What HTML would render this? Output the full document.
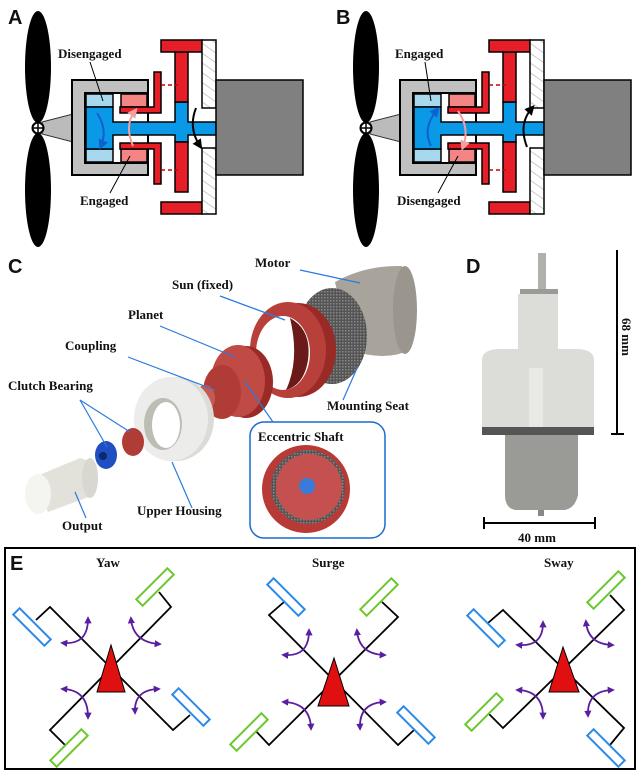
<!DOCTYPE html>
<html><head><meta charset="utf-8"><style>
html,body{margin:0;padding:0;background:#fff}
svg{display:block}
.lb{font-family:"Liberation Serif",serif;font-weight:bold;font-size:13px;fill:#111}
.pl{font-family:"Liberation Sans",sans-serif;font-weight:bold;font-size:20px;fill:#111}
</style></head><body>
<svg width="640" height="773" viewBox="0 0 640 773" xmlns="http://www.w3.org/2000/svg">
<defs>
<pattern id="hatch" width="8" height="8" patternUnits="userSpaceOnUse" patternTransform="rotate(-55)">
<rect width="8" height="8" fill="#fff"/><line x1="0" y1="0" x2="0" y2="8" stroke="#bbb" stroke-width="1.5"/></pattern>
<pattern id="knurl" width="3" height="3" patternUnits="userSpaceOnUse">
<rect width="3" height="3" fill="#555"/><rect width="1.5" height="1.5" fill="#888"/></pattern>
<marker id="ap" viewBox="0 0 10 10" refX="6" refY="5" markerWidth="4" markerHeight="4" orient="auto-start-reverse"><path d="M0,0L10,5L0,10z" fill="#5a1ea0"/></marker>
<marker id="ak" viewBox="0 0 10 10" refX="6" refY="5" markerWidth="5" markerHeight="5" orient="auto"><path d="M0,0L10,5L0,10z" fill="#000"/></marker>
<marker id="ab" viewBox="0 0 10 10" refX="6" refY="5" markerWidth="5" markerHeight="5" orient="auto"><path d="M0,0L10,5L0,10z" fill="#1060d0"/></marker>
<marker id="apk" viewBox="0 0 10 10" refX="6" refY="5" markerWidth="5" markerHeight="5" orient="auto"><path d="M0,0L10,5L0,10z" fill="#f4a0a0"/></marker>
<g id="mech">
<ellipse cx="38" cy="67" rx="13" ry="56" fill="#000"/>
<ellipse cx="38" cy="190" rx="13" ry="57" fill="#000"/>
<polygon points="42,122 73,114 73,142 42,134" fill="#bbb" stroke="#333" stroke-width="1"/>
<circle cx="38" cy="128" r="5.5" fill="#fff" stroke="#000" stroke-width="2"/>
<line x1="32.5" y1="128" x2="43.5" y2="128" stroke="#000" stroke-width="1.5"/>
<line x1="38" y1="122.5" x2="38" y2="133.5" stroke="#000" stroke-width="1.5"/>
<rect x="72" y="80" width="76" height="95" fill="#c0c0c0" stroke="#000" stroke-width="2"/>
<rect x="85" y="93" width="63" height="70" fill="#fff" stroke="#000" stroke-width="2"/>
<rect x="86" y="94" width="27" height="13" fill="#a8d8ee" stroke="#000" stroke-width="1.5"/>
<rect x="86" y="149" width="27" height="13" fill="#a8d8ee" stroke="#000" stroke-width="1.5"/>
<rect x="121" y="94" width="26" height="13" fill="#f48585" stroke="#000" stroke-width="1.5"/>
<rect x="121" y="149" width="26" height="13" fill="#f48585" stroke="#000" stroke-width="1.5"/>
<path d="M86,107H113V122H175V102H188V122H216V135H188V142H175V135H113V149H86Z" fill="#0a99e6" stroke="#000" stroke-width="1.5"/>
<path d="M120,107H154V72H161V113H120Z" fill="#e61e28" stroke="#000" stroke-width="1.5"/>
<path d="M120,149H154V184H161V143H120Z" fill="#e61e28" stroke="#000" stroke-width="1.5"/>
<rect x="175" y="52" width="13" height="50" fill="#e61e28" stroke="#000" stroke-width="1.5"/>
<rect x="175" y="142" width="13" height="50" fill="#e61e28" stroke="#000" stroke-width="1.5"/>
<rect x="161" y="40" width="41" height="12" fill="#e61e28" stroke="#000" stroke-width="1.5"/>
<rect x="161" y="202" width="41" height="12" fill="#e61e28" stroke="#000" stroke-width="1.5"/>
<rect x="202" y="40" width="14" height="68" fill="url(#hatch)" stroke="#000" stroke-width="1.5"/>
<rect x="202" y="148" width="14" height="66" fill="url(#hatch)" stroke="#000" stroke-width="1.5"/>
<rect x="216" y="80" width="87" height="95" fill="#808080" stroke="#000" stroke-width="1.5"/>
<line x1="161" y1="85" x2="178" y2="85" stroke="#c00" stroke-width="1.5" stroke-dasharray="4,3"/>
<line x1="161" y1="170" x2="178" y2="170" stroke="#c00" stroke-width="1.5" stroke-dasharray="4,3"/>
</g>
</defs>

<!-- Panel A -->
<text x="8" y="24" class="pl">A</text>
<use href="#mech"/>
<path d="M97,113 Q108,130 101,146" fill="none" stroke="#1060d0" stroke-width="2" marker-end="url(#ab)"/>
<path d="M133,146 Q124,125 135,111" fill="none" stroke="#f4a0a0" stroke-width="2" marker-end="url(#apk)"/>
<path d="M196,108 Q188,128 200,146" fill="none" stroke="#000" stroke-width="2" marker-end="url(#ak)"/>
<text x="58" y="58" class="lb">Disengaged</text>
<line x1="90" y1="62" x2="103" y2="101" stroke="#000" stroke-width="1"/>
<text x="80" y="205" class="lb">Engaged</text>
<line x1="110" y1="193" x2="130" y2="156" stroke="#000" stroke-width="1"/>

<!-- Panel B -->
<text x="336" y="24" class="pl">B</text>
<use href="#mech" x="328"/>
<path d="M431,146 Q422,128 437,110" fill="none" stroke="#1060d0" stroke-width="2" marker-end="url(#ab)"/>
<path d="M458,111 Q470,128 463,147" fill="none" stroke="#f4a0a0" stroke-width="2" marker-end="url(#apk)"/>
<path d="M527,147 Q518,124 532,108" fill="none" stroke="#000" stroke-width="2" marker-end="url(#ak)"/>
<text x="395" y="58" class="lb">Engaged</text>
<line x1="425" y1="62" x2="431" y2="101" stroke="#000" stroke-width="1"/>
<text x="397" y="205" class="lb">Disengaged</text>
<line x1="438" y1="193" x2="458" y2="156" stroke="#000" stroke-width="1"/>

<!-- Panel C -->
<text x="8" y="273" class="pl">C</text>
<!-- motor -->
<path d="M335,282 Q365,265 402,266 L410,350 Q385,362 350,350 Z" fill="#a8a49c"/>
<ellipse cx="405" cy="310" rx="12" ry="44" fill="#9a968e"/>
<ellipse cx="332" cy="336" rx="35" ry="48" fill="url(#knurl)"/>
<!-- shaft -->
<line x1="198" y1="408" x2="320" y2="338" stroke="#1f4fa0" stroke-width="5"/>
<!-- sun ring -->
<ellipse cx="298" cy="350" rx="38" ry="47" fill="#9a2a26"/>
<ellipse cx="288" cy="350" rx="38" ry="48" fill="#b8403a"/>
<ellipse cx="283" cy="353" rx="27" ry="37" fill="#fff"/>
<path d="M290,318 Q312,330 308,360 Q304,385 286,390 Q300,360 290,318 Z" fill="#6a1a18"/>
<!-- planet -->
<ellipse cx="246" cy="382" rx="27" ry="36" fill="#9a2a26"/>
<ellipse cx="238" cy="381" rx="27" ry="36" fill="#c04a44"/>
<ellipse cx="222" cy="392" rx="19" ry="27" fill="#b03c36"/>
<ellipse cx="205" cy="398" rx="10" ry="13" fill="#c55a54"/>
<line x1="196" y1="407" x2="205" y2="402" stroke="#1f4fa0" stroke-width="6"/>
<!-- upper housing -->
<ellipse cx="176" cy="419" rx="38" ry="42" fill="#dcdcd6"/>
<ellipse cx="171" cy="419" rx="37" ry="42" fill="#ececea"/>
<ellipse cx="163" cy="424" rx="19" ry="26" fill="#bdbdb6"/>
<ellipse cx="166" cy="425" rx="14" ry="23" fill="#fff"/>
<!-- bearings -->
<ellipse cx="133" cy="442" rx="11" ry="14" fill="#b03c36"/>
<ellipse cx="106" cy="455" rx="11" ry="14" fill="#1f4fc0"/>
<circle cx="103" cy="456" r="4" fill="#0a2a70"/>
<!-- output -->
<polygon points="32,478 80,458 92,462 94,495 48,512" fill="#e2e2da"/>
<ellipse cx="90" cy="478" rx="8" ry="20" fill="#d8d8d0"/>
<ellipse cx="38" cy="494" rx="13" ry="20" fill="#f4f4f0"/>
<!-- eccentric inset -->
<rect x="250" y="422" width="135" height="116" rx="14" fill="#fff" stroke="#1a6ad0" stroke-width="1.5"/>
<circle cx="306" cy="489" r="44" fill="#b83a36"/>
<circle cx="308" cy="487" r="37" fill="url(#knurl)"/>
<circle cx="309" cy="487" r="33" fill="#c55050"/>
<circle cx="307" cy="486" r="8" fill="#3a7ad8"/>
<!-- leader lines -->
<g stroke="#2a7ae0" stroke-width="1.2">
<line x1="300" y1="270" x2="360" y2="283"/>
<line x1="220" y1="296" x2="285" y2="320"/>
<line x1="160" y1="326" x2="235" y2="357"/>
<line x1="128" y1="357" x2="215" y2="390"/>
<line x1="80" y1="400" x2="107" y2="447"/>
<line x1="80" y1="400" x2="130" y2="432"/>
<line x1="343" y1="400" x2="358" y2="366"/>
<line x1="245" y1="382" x2="273" y2="422"/>
<line x1="192" y1="508" x2="172" y2="462"/>
<line x1="86" y1="518" x2="75" y2="492"/>
</g>
<text x="255" y="267" class="lb">Motor</text>
<text x="172" y="289" class="lb">Sun (fixed)</text>
<text x="128" y="319" class="lb">Planet</text>
<text x="65" y="350" class="lb">Coupling</text>
<text x="8" y="390" class="lb">Clutch Bearing</text>
<text x="327" y="410" class="lb">Mounting Seat</text>
<text x="258" y="441" class="lb">Eccentric Shaft</text>
<text x="137" y="515" class="lb">Upper Housing</text>
<text x="62" y="530" class="lb">Output</text>

<!-- Panel D -->
<text x="466" y="273" class="pl">D</text>
<rect x="538" y="253" width="8" height="40" fill="#b0b0ac"/>
<rect x="520" y="289" width="38" height="6" fill="#9a9a96"/>
<rect x="518" y="294" width="40" height="58" fill="#dcdcd8"/>
<path d="M482,433 V360 Q482,350 498,349 H578 Q594,350 594,360 V433 Z" fill="#dcdcd8"/>
<rect x="529" y="368" width="14" height="60" fill="#e8e8e4"/>
<rect x="482" y="427" width="112" height="8" fill="#555"/>
<path d="M505,435 H578 V495 Q575,508 565,510 H515 Q505,508 505,495 Z" fill="#9a9a96"/>
<rect x="538" y="510" width="6" height="6" fill="#888"/>
<g stroke="#000" stroke-width="2">
<line x1="617" y1="250" x2="617" y2="434"/>
<line x1="611" y1="434" x2="624" y2="434"/>
<line x1="484" y1="523" x2="595" y2="523"/>
<line x1="484" y1="517" x2="484" y2="529"/>
<line x1="595" y1="517" x2="595" y2="529"/>
</g>
<text x="622" y="318" class="lb" transform="rotate(90 622 318)">68 mm</text>
<text x="518" y="542" class="lb">40 mm</text>

<!-- Panel E -->
<rect x="5" y="548" width="630" height="221" fill="none" stroke="#000" stroke-width="2"/>
<text x="10" y="570" class="pl">E</text>
<text x="96" y="567" class="lb">Yaw</text>
<text x="312" y="567" class="lb">Surge</text>
<text x="544" y="567" class="lb">Sway</text>

<g fill="none" stroke="#000" stroke-width="1.8">
<polyline points="36,620 50,607 173,730 190,715"/>
<polyline points="159,592 171,607 50,730 65,745"/>
<polyline points="284,602 269,615 398,745 414,730"/>
<polyline points="382,602 398,617 269,745 253,728"/>
<polyline points="488,623 503,610 624,728 610,745"/>
<polyline points="610,595 624,610 503,728 488,713"/>
</g>
<g stroke-width="2" fill="#fff">
<rect x="-22" y="-4.5" width="44" height="9" stroke="#2a8ae8" transform="translate(32,627) rotate(45)"/>
<rect x="-22" y="-4.5" width="44" height="9" stroke="#6ac82a" transform="translate(155,587) rotate(-45)"/>
<rect x="-22" y="-4.5" width="44" height="9" stroke="#2a8ae8" transform="translate(191,707) rotate(45)"/>
<rect x="-22" y="-4.5" width="44" height="9" stroke="#6ac82a" transform="translate(69,748) rotate(-45)"/>
<rect x="-22" y="-4.5" width="44" height="9" stroke="#2a8ae8" transform="translate(286,597) rotate(45)"/>
<rect x="-22" y="-4.5" width="44" height="9" stroke="#6ac82a" transform="translate(379,597) rotate(-45)"/>
<rect x="-22" y="-4.5" width="44" height="9" stroke="#6ac82a" transform="translate(249,732) rotate(-45)"/>
<rect x="-22" y="-4.5" width="44" height="9" stroke="#2a8ae8" transform="translate(416,725) rotate(45)"/>
<rect x="-22" y="-4.5" width="44" height="9" stroke="#2a8ae8" transform="translate(486,628) rotate(45)"/>
<rect x="-22" y="-4.5" width="44" height="9" stroke="#6ac82a" transform="translate(606,590) rotate(-45)"/>
<rect x="-22" y="-4.5" width="44" height="9" stroke="#6ac82a" transform="translate(484,712) rotate(-45)"/>
<rect x="-22" y="-4.5" width="44" height="9" stroke="#2a8ae8" transform="translate(606,748) rotate(45)"/>
</g>
<g fill="#e01010" stroke="#000" stroke-width="1">
<polygon points="111,645 97,692 125,692"/>
<polygon points="334,658 318,706 349,706"/>
<polygon points="563,647 549,692 579,692"/>
</g>
<g fill="none" stroke="#5a1ea0" stroke-width="1.8" marker-start="url(#ap)" marker-end="url(#ap)">
<path d="M63,643 Q88,645 88,619"/>
<path d="M131,619 Q133,642 159,644"/>
<path d="M63,689 Q88,690 88,717"/>
<path d="M135,712 Q134,690 158,689"/>
<path d="M284,655 Q309,657 309,631"/>
<path d="M357,631 Q359,654 384,655"/>
<path d="M284,702 Q310,703 311,728"/>
<path d="M360,728 Q359,703 384,702"/>
<path d="M518,645 Q543,647 543,623"/>
<path d="M586,622 Q588,644 612,645"/>
<path d="M518,690 Q543,691 543,717"/>
<path d="M588,715 Q587,691 612,690"/>
</g>
</svg>
</body></html>
